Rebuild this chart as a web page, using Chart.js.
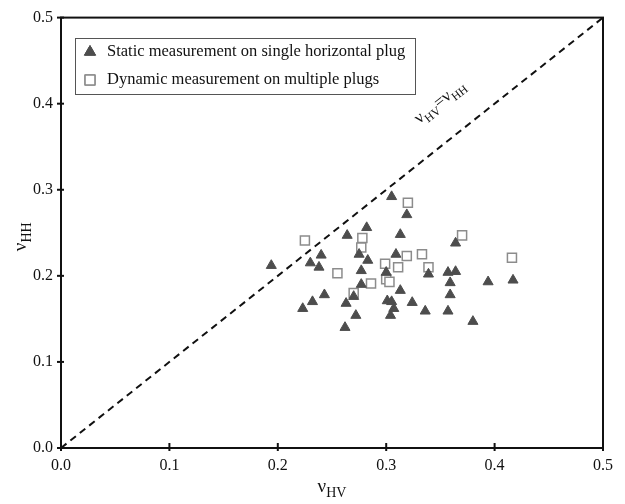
<!DOCTYPE html>
<html>
<head>
<meta charset="utf-8">
<script src="https://cdn.jsdelivr.net/npm/chart.js@4.4.1/dist/chart.umd.min.js"></script>
<style>
    body { margin: 0; background: #fff; }
    #wrap { width: 625px; height: 504px; }
</style>
</head>
<body>
<div id="wrap"><canvas id="chart" width="625" height="504"></canvas></div>
<script>
// Data
const staticX = [0.194, 0.240, 0.230, 0.238, 0.243, 0.232, 0.223, 0.305, 0.319, 0.282,
                 0.264, 0.313, 0.275, 0.309, 0.283, 0.277, 0.300, 0.277, 0.313, 0.270,
                 0.263, 0.301, 0.305, 0.324, 0.307, 0.272, 0.304, 0.262, 0.364, 0.339,
                 0.357, 0.364, 0.359, 0.394, 0.417, 0.359, 0.336, 0.357, 0.380];
const staticY = [0.212, 0.224, 0.215, 0.210, 0.178, 0.170, 0.162, 0.292, 0.271, 0.256,
                 0.247, 0.248, 0.225, 0.225, 0.218, 0.206, 0.204, 0.190, 0.183, 0.176,
                 0.168, 0.171, 0.170, 0.169, 0.162, 0.154, 0.154, 0.140, 0.238, 0.202,
                 0.204, 0.205, 0.192, 0.193, 0.195, 0.178, 0.159, 0.159, 0.147];
const dynamicX = [0.225, 0.255, 0.320, 0.278, 0.277, 0.319, 0.333, 0.299, 0.311, 0.300,
                  0.303, 0.286, 0.270, 0.339, 0.370, 0.416];
const dynamicY = [0.241, 0.203, 0.285, 0.244, 0.233, 0.223, 0.225, 0.214, 0.210, 0.196,
                  0.193, 0.191, 0.180, 0.210, 0.247, 0.221];
const identityLine = [0, 0.5];
const tickValues = [0, 0.1, 0.2, 0.3, 0.4, 0.5];
const seriesLabels = ['Static measurement on single horizontal plug', 'Dynamic measurement on multiple plugs'];

const SERIF = '"Liberation Serif", "DejaVu Serif", serif';

function toPoints(xs, ys) {
    return xs.map((x, i) => ({ x: x, y: ys[i] }));
}

// draw text made of [text, isSubscript] parts
function drawParts(ctx, parts, x, y, size, align) {
    const subSize = Math.round(size * 0.72);
    let total = 0;
    parts.forEach(([t, sub]) => {
        ctx.font = (sub ? subSize : size) + 'px ' + SERIF;
        total += ctx.measureText(t).width;
    });
    let cx = align === 'center' ? x - total / 2 : x;
    parts.forEach(([t, sub]) => {
        ctx.font = (sub ? subSize : size) + 'px ' + SERIF;
        ctx.fillText(t, cx, sub ? y + size * 0.28 : y);
        cx += ctx.measureText(t).width;
    });
}

const framePlugin = {
    id: 'frame',
    afterDraw(chart) {
        const ctx = chart.ctx;
        const area = chart.chartArea;
        const xs = chart.scales.x;
        const ys = chart.scales.y;
        ctx.save();
        ctx.strokeStyle = '#111';
        ctx.lineWidth = 2;
        ctx.strokeRect(area.left, area.top, area.right - area.left, area.bottom - area.top);

        // crossing tick marks
        tickValues.forEach(v => {
            const px = xs.getPixelForValue(v);
            ctx.beginPath();
            ctx.moveTo(px, area.bottom - 5);
            ctx.lineTo(px, area.bottom + 3);
            ctx.stroke();
            const py = ys.getPixelForValue(v);
            ctx.beginPath();
            ctx.moveTo(area.left - 4, py);
            ctx.lineTo(area.left + 3, py);
            ctx.stroke();
        });

        // legend box
        ctx.fillStyle = '#fff';
        ctx.strokeStyle = '#555';
        ctx.lineWidth = 1;
        ctx.fillRect(75.5, 38.5, 340, 56);
        ctx.strokeRect(75.5, 38.5, 340, 56);
        const rows = [52, 80];
        chart.data.datasets.slice(0, 2).forEach((ds, i) => {
            Chart.helpers.drawPoint(ctx, {
                pointStyle: ds.pointStyle,
                radius: ds.pointRadius + 0.6,
                rotation: 0,
                borderWidth: ds.borderWidth
            }, 90, rows[i]);
            ctx.fillStyle = ds.backgroundColor;
            ctx.strokeStyle = ds.borderColor;
            ctx.lineWidth = ds.borderWidth;
            ctx.fill();
            ctx.stroke();
            ctx.fillStyle = '#111';
            ctx.font = '16.5px ' + SERIF;
            ctx.textBaseline = 'middle';
            ctx.textAlign = 'left';
            ctx.fillText(ds.label, 107, rows[i]);
        });

        // axis titles
        ctx.fillStyle = '#111';
        ctx.textBaseline = 'alphabetic';
        ctx.textAlign = 'left';
        drawParts(ctx, [['\u03BD', false], ['HV', true]], (area.left + area.right) / 2, 492, 19, 'center');
        ctx.save();
        ctx.translate(26, (area.top + area.bottom) / 2 + 4);
        ctx.rotate(-Math.PI / 2);
        drawParts(ctx, [['\u03BD', false], ['HH', true]], 0, 0, 19, 'center');
        ctx.restore();

        // identity line label
        const x0 = xs.getPixelForValue(identityLine[0]);
        const y0 = ys.getPixelForValue(identityLine[0]);
        const x1 = xs.getPixelForValue(identityLine[1]);
        const y1 = ys.getPixelForValue(identityLine[1]);
        ctx.save();
        ctx.translate(xs.getPixelForValue(0.352), ys.getPixelForValue(0.398));
        ctx.rotate(Math.atan2(y1 - y0, x1 - x0));
        drawParts(ctx, [['\u03BD', false], ['HV', true], ['=\u03BD', false], ['HH', true]], 0, 0, 17, 'center');
        ctx.restore();
        ctx.restore();
    }
};

const ctx = document.getElementById('chart').getContext('2d');
new Chart(ctx, {
    type: 'scatter',
    data: {
        datasets: [{
            label: seriesLabels[0],
            data: toPoints(staticX, staticY),
            pointStyle: 'triangle',
            pointRadius: 5.8,
            backgroundColor: '#4d4d4d',
            borderColor: '#4d4d4d',
            borderWidth: 1
        }, {
            label: seriesLabels[1],
            data: toPoints(dynamicX, dynamicY),
            pointStyle: 'rect',
            pointRadius: 6.4,
            backgroundColor: '#ffffff',
            borderColor: '#8c8c8c',
            borderWidth: 1.5
        }, {
            type: 'line',
            label: 'identity',
            data: toPoints(identityLine, identityLine),
            borderColor: '#111',
            borderWidth: 2,
            borderDash: [7, 5],
            pointRadius: 0,
            fill: false
        }]
    },
    options: {
        responsive: false,
        animation: false,
        layout: { padding: { top: 15, right: 22, left: 0, bottom: 0 } },
        plugins: {
            legend: { display: false },
            tooltip: { enabled: false }
        },
        scales: {
            x: {
                type: 'linear',
                min: 0,
                max: 0.5,
                grid: { display: false, drawTicks: false },
                border: { display: false },
                ticks: {
                    stepSize: 0.1,
                    padding: 8,
                    color: '#111',
                    font: { family: SERIF, size: 16 },
                    callback: v => v.toFixed(1)
                },
                afterFit: s => { s.height = 56; }
            },
            y: {
                type: 'linear',
                min: 0,
                max: 0.5,
                grid: { display: false, drawTicks: false },
                border: { display: false },
                ticks: {
                    stepSize: 0.1,
                    padding: 8,
                    color: '#111',
                    font: { family: SERIF, size: 16 },
                    callback: v => v.toFixed(1)
                },
                afterFit: s => { s.width = 61; }
            }
        }
    },
    plugins: [framePlugin]
});
</script>
</body>
</html>
